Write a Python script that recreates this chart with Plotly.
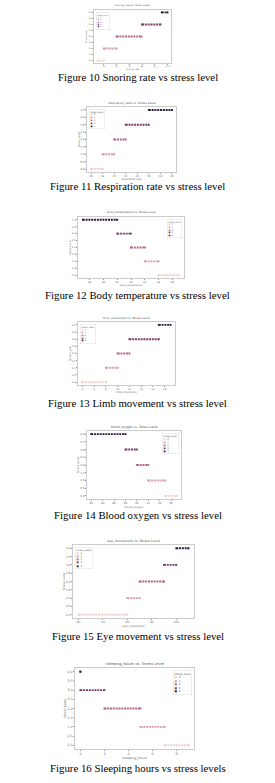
import plotly.graph_objects as go

W, H = 275, 783

# ---------------- data ----------------
stress_levels = [0, 1, 2, 3, 4]

snoring_rate_lo = [45, 50, 60, 80, 95.5]
snoring_rate_hi = [50, 60, 79.5, 94.5, 100]

respiration_rate_lo = [16, 18, 20, 22, 26]
respiration_rate_hi = [18, 20, 22, 26, 30]

body_temperature_lo = [96, 94, 92, 90, 85]
body_temperature_hi = [99, 96, 94, 92, 90]

limb_movement_lo = [4, 8, 10, 12, 17]
limb_movement_hi = [8, 10, 12, 17, 19]

blood_oxygen_lo = [95, 92, 90, 88, 82]
blood_oxygen_hi = [97, 95, 92, 90, 88]

eye_movement_lo = [60, 80, 85, 95, 100]
eye_movement_hi = [80, 85, 95, 100, 105]

sleeping_hours_lo = [7, 5, 2, 0, 0]
sleeping_hours_hi = [9, 7, 5, 2, 0]

feature_names = ["snoring_rate", "respiration_rate", "body_temperature",
                 "limb_movement", "blood_oxygen", "eye_movement", "sleeping_hours"]
captions = ["Figure 10 Snoring rate vs stress level",
            "Figure 11 Respiration rate vs stress level",
            "Figure 12 Body temperature vs stress level",
            "Figure 13 Limb movement vs stress level",
            "Figure 14 Blood oxygen vs stress level",
            "Figure 15 Eye movement vs stress level",
            "Figure 16 Sleeping hours vs stress levels"]
x_ticks = [[50, 60, 70, 80, 90, 100],
           [16, 18, 20, 22, 24, 26, 28, 30],
           [86, 88, 90, 92, 94, 96, 98],
           [4, 6, 8, 10, 12, 14, 16, 18],
           [82, 84, 86, 88, 90, 92, 94, 96],
           [60, 70, 80, 90, 100],
           [0, 2, 4, 6, 8]]
y_ticks = [0, 0.5, 1, 1.5, 2, 2.5, 3, 3.5, 4]

lows = [snoring_rate_lo, respiration_rate_lo, body_temperature_lo, limb_movement_lo,
        blood_oxygen_lo, eye_movement_lo, sleeping_hours_lo]
highs = [snoring_rate_hi, respiration_rate_hi, body_temperature_hi, limb_movement_hi,
         blood_oxygen_hi, eye_movement_hi, sleeping_hours_hi]

# ---------------- style / layout ----------------
colors = ['#edd1cb', '#d99ca8', '#b1688d', '#7a3f6f', '#2d1e3e']
# plot boxes in pixels: (left, right, top, bottom)
boxes = [(94, 171, 10, 63), (87, 176, 107, 172), (78, 184, 217, 278), (78, 175, 322, 385),
         (87, 181, 431, 499), (73, 194, 545, 618), (75, 194, 668, 749)]
legend_side = ['left', 'left', 'right', 'left', 'right', 'left', 'right']
caption_y = [77, 186, 295, 403, 515, 636, 768]


def px(x):
    return x / W


def py(y):
    return 1 - y / H


fig = go.Figure()
layout = dict(width=W, height=H, margin=dict(l=0, r=0, t=0, b=0),
              paper_bgcolor='white', plot_bgcolor='white', showlegend=False,
              font=dict(family='DejaVu Sans', color='#555'))
annotations = []

for i in range(7):
    k = '' if i == 0 else str(i + 1)
    l, r, t, b = boxes[i]
    fs = (b - t) / 25.0
    lo_vals, hi_vals = lows[i], highs[i]
    dmin, dmax = min(lo_vals), max(hi_vals)
    pad = (dmax - dmin) * 0.05
    for lvl in stress_levels:
        fig.add_trace(go.Scatter(
            x=[lo_vals[lvl], hi_vals[lvl]], y=[lvl, lvl],
            mode='lines+markers',
            line=dict(color=colors[lvl], width=1.9, dash='2px,0.8px'),
            marker=dict(color=colors[lvl], size=1.9, symbol='square'),
            xaxis='x' + k, yaxis='y' + k, hoverinfo='skip'))
    axcommon = dict(showline=True, mirror=True, linecolor='#cccccc', linewidth=0.6,
                    showgrid=False, zeroline=False, ticks='outside', ticklen=1,
                    tickwidth=0.4, tickcolor='#999', tickfont=dict(size=fs, color='#666'))
    layout['xaxis' + k] = dict(domain=[px(l), px(r)], anchor='y' + k,
                               range=[dmin - pad, dmax + pad], tickvals=x_ticks[i],
                               title=dict(text=feature_names[i], font=dict(size=fs, color='#666'),
                                          standoff=0.5),
                               **axcommon)
    layout['yaxis' + k] = dict(domain=[py(b), py(t)], anchor='x' + k,
                               range=[-0.2, 4.2], tickvals=y_ticks, tickformat='.1f',
                               title=dict(text='Stress Level', font=dict(size=fs, color='#666'),
                                          standoff=0.5),
                               **axcommon)
    # title
    annotations.append(dict(text=f"{feature_names[i]} vs. Stress Level",
                            xref='paper', yref='paper', x=px((l + r) / 2), y=py(t - 0.5),
                            xanchor='center', yanchor='bottom', showarrow=False,
                            font=dict(size=fs * 1.15, color='#555')))
    # legend as text box
    lines = ["stress_level"] + [f"<span style='color:{colors[s]}'>■</span>  {s}" for s in stress_levels]
    if legend_side[i] == 'left':
        lx, xa = px(l + 2), 'left'
    else:
        lx, xa = px(r - 2), 'right'
    annotations.append(dict(text='<br>'.join(lines), xref='paper', yref='paper',
                            x=lx, y=py(t + 2), xanchor=xa, yanchor='top', align='left',
                            showarrow=False, font=dict(size=fs * 0.85, color='#555'),
                            bgcolor='white', bordercolor='#dddddd', borderwidth=0.5, borderpad=1))
    # caption
    annotations.append(dict(text=captions[i], xref='paper', yref='paper',
                            x=0.5, y=py(caption_y[i]), xanchor='center', yanchor='middle',
                            showarrow=False,
                            font=dict(family='Liberation Serif', size=10.8, color='black')))

layout['annotations'] = annotations
fig.update_layout(**layout)
fig.write_html("out.html")
